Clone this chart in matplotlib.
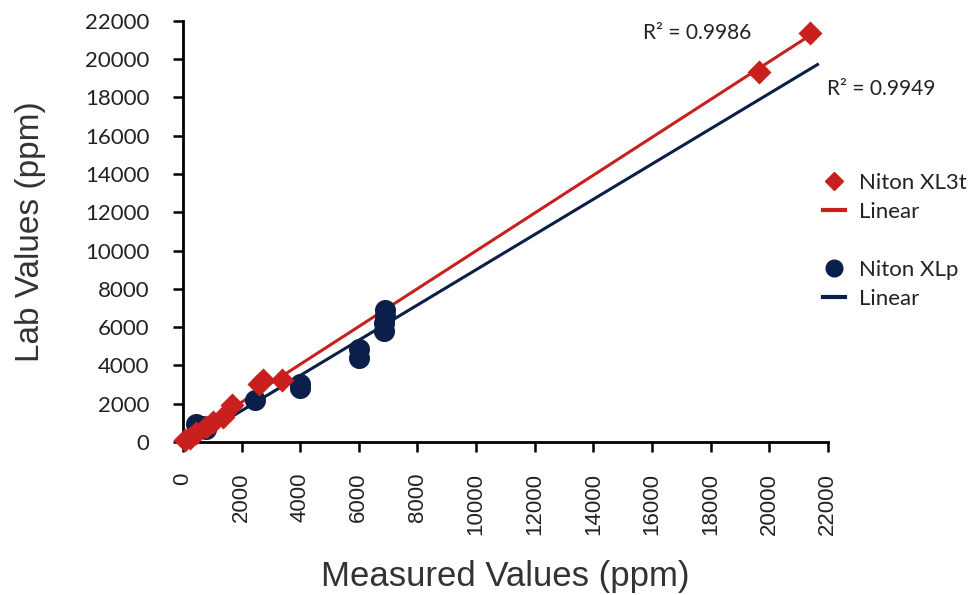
import numpy as np
import matplotlib
matplotlib.use("Agg")
import matplotlib.pyplot as plt
from matplotlib.lines import Line2D

# Data (ppm)
xl3t_measured = [21400, 19640, 3390, 2740, 2600, 1680, 1370, 1030, 790, 450, 250, 60]
xl3t_lab      = [21350, 19330, 3250, 3250, 3050, 1930, 1300, 1050, 780, 450, 200, 100]

xlp_measured = [450, 650, 800, 2450, 4000, 4000, 6000, 6000, 6850, 6850, 6900, 6900]
xlp_lab      = [950, 850, 700, 2200, 2800, 3050, 4400, 4850, 5800, 6200, 6600, 6900]

# XLp linear trendline as drawn in the reference (slope, intercept) and its x-span
xlp_trend = [0.92, -200]
xlp_trend_span = [200, 21650]

r2_xl3t = "R\u00b2 = 0.9986"
r2_xlp = "R\u00b2 = 0.9949"
xticks = list(range(0, 22001, 2000))
yticks = list(range(0, 22001, 2000))

red = "#c8201f"
navy = "#0b1f4b"

fig = plt.figure(figsize=(9.75, 5.95), dpi=100)
ax = fig.add_axes([0.1877, 0.257, 0.6613, 0.708])

# trendlines
m1, b1 = np.polyfit(xl3t_measured, xl3t_lab, 1)
xr1 = np.array([0, max(xl3t_measured)], dtype=float)
ax.plot(xr1, m1 * xr1 + b1, color=red, lw=2.2, zorder=3)
xr2 = np.array(xlp_trend_span, dtype=float)
ax.plot(xr2, xlp_trend[0] * xr2 + xlp_trend[1], color=navy, lw=2.2, zorder=2)

ax.scatter(xlp_measured, xlp_lab, s=230, marker='o', color=navy, zorder=4, linewidths=0)
ax.scatter(xl3t_measured, xl3t_lab, s=150, marker='D', color=red, zorder=5, linewidths=0)

ax.set_xlim(0, 22000)
ax.set_ylim(0, 22000)
ax.set_xticks(xticks)
ax.set_yticks(yticks)
ax.set_xticklabels([str(t) for t in xticks], rotation=90,
                   fontdict=dict(family=['Liberation Sans', 'DejaVu Sans'], size=16))
ax.set_yticklabels([str(t) for t in yticks],
                   fontdict=dict(family=['Lato', 'DejaVu Sans'], size=16))
ax.tick_params(direction='out', length=7, width=1.8, color='black', labelcolor='#222222')
ax.tick_params(axis='y', pad=17)
ax.tick_params(axis='x', pad=15)
for s in ['top', 'right']:
    ax.spines[s].set_visible(False)
for s in ['left', 'bottom']:
    ax.spines[s].set_linewidth(2)
for c in ax.collections:
    c.set_clip_on(False)

ax.set_xlabel("Measured Values (ppm)", family=['Liberation Sans', 'DejaVu Sans'], size=25, color='#333333', labelpad=18)
ax.set_ylabel("Lab Values (ppm)", family=['Liberation Sans', 'DejaVu Sans'], size=24, color='#333333', labelpad=28)

textfont = dict(family=['Lato', 'DejaVu Sans'], size=15, color='#222222')
ax.text(0.715, 0.944, r2_xl3t, transform=fig.transFigure, ha='center', va='center', **textfont)
ax.text(0.904, 0.851, r2_xlp, transform=fig.transFigure, ha='center', va='center', **textfont)

legfont = {'family': ['Lato', 'DejaVu Sans'], 'size': 16}
h1 = [Line2D([], [], marker='D', color=red, ls='none', markersize=9),
      Line2D([], [], color=red, lw=3)]
h2 = [Line2D([], [], marker='o', color=navy, ls='none', markersize=12),
      Line2D([], [], color=navy, lw=3)]
leg1 = fig.legend(h1, ["Niton XL3t", "Linear"], loc='upper left', bbox_to_anchor=(0.835, 0.724),
                  frameon=False, prop=legfont, handlelength=1.0, handletextpad=0.6, labelspacing=0.4,
                  borderaxespad=0)
leg2 = fig.legend(h2, ["Niton XLp", "Linear"], loc='upper left', bbox_to_anchor=(0.835, 0.578),
                  frameon=False, prop=legfont, handlelength=1.0, handletextpad=0.6, labelspacing=0.4,
                  borderaxespad=0)
for lg in (leg1, leg2):
    for t in lg.get_texts():
        t.set_color('#222222')

fig.savefig("out.png", dpi=100)
